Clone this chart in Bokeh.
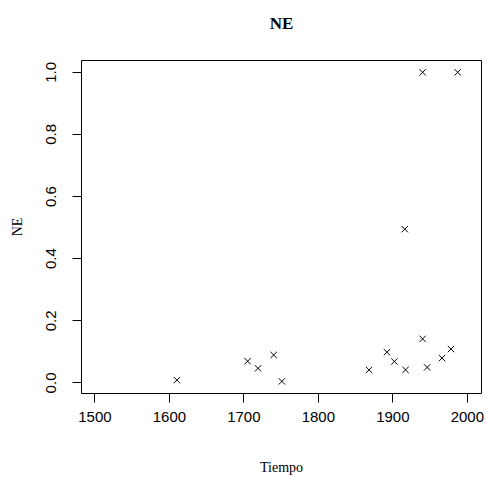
from bokeh.plotting import figure
from bokeh.models import FixedTicker, Range1d, LinearAxis
from bokeh.embed import file_html
from bokeh.resources import INLINE

title_text = "NE"
tiempo = [1610, 1705, 1719, 1740, 1751, 1868, 1892, 1902, 1917, 1940, 1946, 1966, 1978, 1916, 1940, 1987]
ne = [0.009, 0.070, 0.047, 0.090, 0.005, 0.042, 0.099, 0.069, 0.042, 0.142, 0.050, 0.080, 0.109, 0.495, 1.0, 1.0]

x_ticks = [1500, 1600, 1700, 1800, 1900, 2000]
x_tick_labels = ["1500", "1600", "1700", "1800", "1900", "2000"]
y_ticks = [0.0, 0.2, 0.4, 0.6, 0.8, 1.0]
y_tick_labels = ["0.0", "0.2", "0.4", "0.6", "0.8", "1.0"]

p = figure(width=487, height=477, output_backend="svg", toolbar_location=None,
           x_range=Range1d(1482, 2019), y_range=Range1d(-0.034, 1.038),
           x_axis_label="Tiempo", y_axis_label="NE",
           min_border_left=81, min_border_right=6, min_border_top=60, min_border_bottom=82)

p.scatter(tiempo, ne, marker="x", size=9, line_color="black", line_width=1)

p.grid.visible = False
p.outline_line_color = "black"
p.outline_line_width = 1
p.background_fill_color = "white"
p.border_fill_color = "white"

bottom_axis = p.below[0]
left_axis = p.left[0]

for ax, ticks, labels in ((bottom_axis, x_ticks, x_tick_labels), (left_axis, y_ticks, y_tick_labels)):
    ax.ticker = FixedTicker(ticks=ticks)
    ax.major_label_overrides = {t: l for t, l in zip(ticks, labels)}
    ax.axis_line_color = None
    ax.major_tick_line_color = "black"
    ax.major_tick_out = 9
    ax.major_tick_in = 0
    ax.minor_tick_line_color = None
    ax.major_label_text_font = "Liberation Sans"
    ax.major_label_text_font_size = "15px"
    ax.major_label_text_color = "black"
    ax.axis_label_text_font = "Liberation Serif"
    ax.axis_label_text_font_size = "14px"
    ax.axis_label_text_font_style = "normal"
    ax.axis_label_text_color = "black"

bottom_axis.major_label_standoff = 9
bottom_axis.axis_label_standoff = 35
left_axis.major_label_orientation = "vertical"
left_axis.major_label_standoff = 16
left_axis.axis_label_standoff = 19

# main title drawn as the label of a tickless axis above the frame
top_axis = LinearAxis(ticker=FixedTicker(ticks=[]), axis_label=title_text,
                      axis_line_color=None, major_tick_line_color=None,
                      minor_tick_line_color=None, axis_label_standoff=28,
                      axis_label_text_font="Liberation Serif",
                      axis_label_text_font_size="17px",
                      axis_label_text_font_style="bold",
                      axis_label_text_color="black")
p.add_layout(top_axis, "above")

open("out.html", "w").write(file_html(p, INLINE))
